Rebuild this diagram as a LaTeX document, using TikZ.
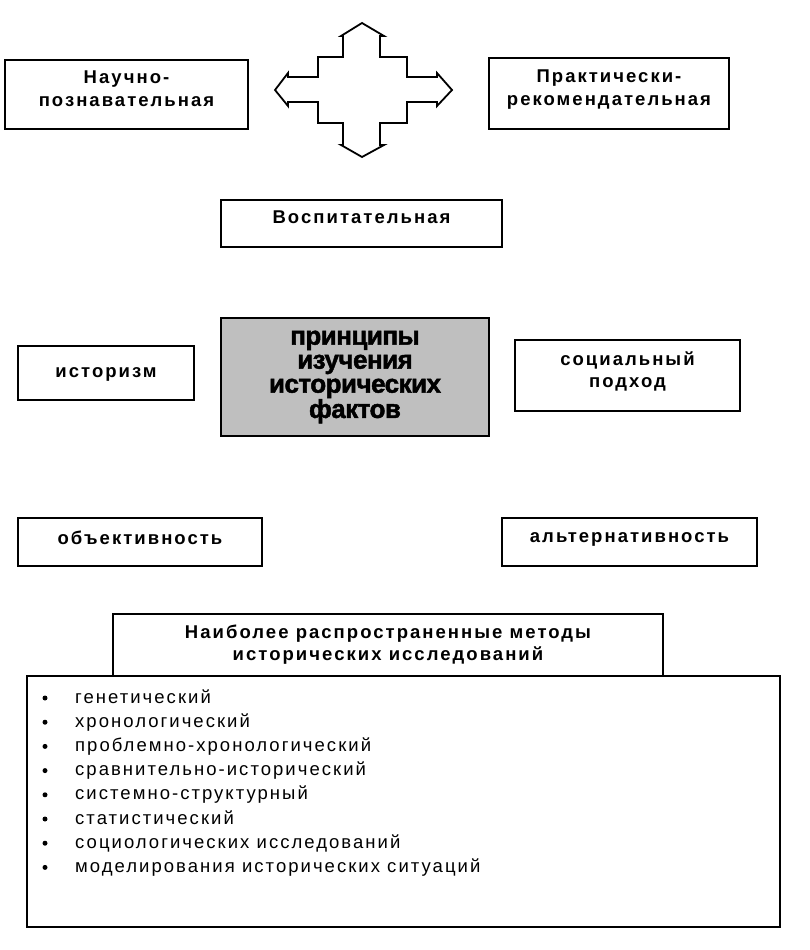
\documentclass[tikz,border=0pt]{standalone}
\usepackage{fontspec}
\setmainfont{Liberation Sans}
\newfontfamily\spaced[LetterSpace=11]{Liberation Sans}
\newfontfamily\listfont[LetterSpace=11]{Liberation Sans}
\newfontfamily\heavyfont[BoldFeatures={FakeBold=1.8}, LetterSpace=-2]{Liberation Sans}
\usetikzlibrary{positioning,patterns}

\tikzset{
  funcbox/.style={draw, line width=1.8pt, align=center, inner sep=0pt, text depth=12pt,
    font=\spaced\bfseries\fontsize{18.5}{22.5}\selectfont},
  corebox/.style={draw, line width=1.8pt, align=center, inner sep=0pt,
    fill=gray!50, font=\heavyfont\bfseries\fontsize{26}{24}\selectfont},
  method/.style={anchor=base west, inner sep=0pt, font=\listfont\fontsize{18.5}{20}\selectfont},
  dotmark/.style={circle, fill=black, inner sep=0pt, minimum size=5pt}
}

\begin{document}
\begin{tikzpicture}[x=1pt, y=-1pt]
    \useasboundingbox (0,0) rectangle (809,950);

    % Functions
    \node[funcbox, minimum width=243pt, minimum height=69pt] (sci) at (126.5,94.5) {Научно-\\познавательная};
    \node[funcbox, minimum width=240pt, minimum height=71pt] (prac) at (609,93.5) {Практически-\\рекомендательная};
    \node[funcbox, minimum width=281pt, minimum height=47pt] (edu) at (361.5,223.5) {Воспитательная};

    % Four-way arrow
    \draw[line width=1.8pt, line join=miter]
        (362,23) -- (384,36) -- (380,36) -- (380,57) -- (407,57) -- (407,77) -- (437,77)
        -- (437,73) -- (452,90) -- (437,106) -- (437,102) -- (407,102) -- (407,123)
        -- (380,123) -- (380,145) -- (384,145) -- (362,157) -- (341,145) -- (343,145)
        -- (343,123) -- (318,123) -- (318,102) -- (288,102) -- (288,106) -- (275,90)
        -- (288,73) -- (288,77) -- (318,77) -- (318,57) -- (343,57) -- (343,36)
        -- (341,36) -- cycle;

    % Principles
    \node[corebox, minimum width=268pt, minimum height=118pt] (core) at (355,377)
        {принципы\\изучения\\исторических\\фактов};
    \node[funcbox, text depth=0pt, minimum width=176pt, minimum height=54pt] (hist) at (106,373) {историзм};
    \node[funcbox, minimum width=225pt, minimum height=71pt] (soc) at (627.5,375.5) {социальный\\подход};
    \node[funcbox, text depth=9pt, minimum width=244pt, minimum height=48pt] (obj) at (140,542) {объективность};
    \node[funcbox, text depth=8pt, minimum width=255pt, minimum height=48pt] (alt) at (629.5,542) {альтернативность};

    % Methods
    \node[draw, line width=2.2pt, minimum width=753pt, minimum height=251pt] (list) at (403.5,801.5) {};
    \node[funcbox, text depth=5pt, fill=white, minimum width=550pt, minimum height=62pt] (head) at (388,645)
        {Наиболее распространенные методы\\исторических исследований};
    \foreach \name [count=\i from 0] in {генетический, хронологический, проблемно-хронологический,
        сравнительно-исторический, системно-структурный, статистический,
        социологических исследований, моделирования исторических ситуаций}{
      \node[dotmark] (b\i) at (45,{698+24.2*\i}) {};
      \node[method] (m\i) at (75,{703+24.2*\i}) {\name};
    }
\end{tikzpicture}
\end{document}
